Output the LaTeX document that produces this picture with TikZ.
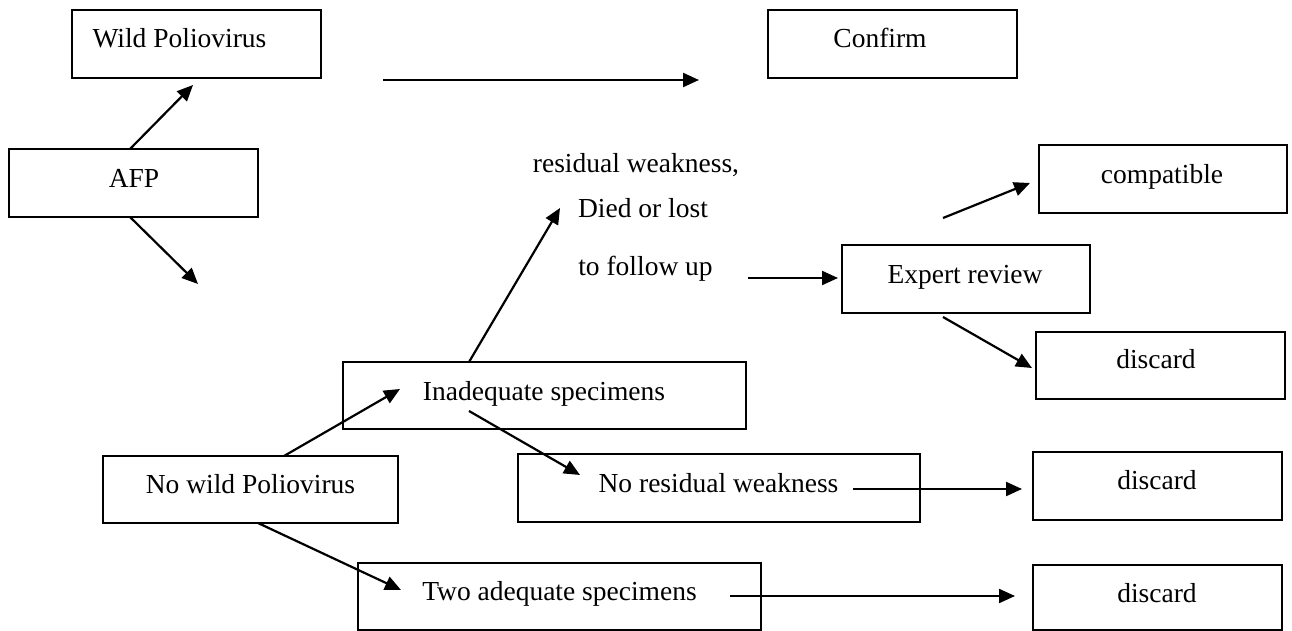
\documentclass[tikz,border=0pt]{standalone}
\usepackage{fontspec}
\setmainfont{Liberation Serif}
\usetikzlibrary{arrows.meta}
\begin{document}
\begin{tikzpicture}[x=1pt,y=-1pt,
  box/.style={draw, line width=1.3pt, inner sep=0pt, outer sep=0pt},
  txt/.style={inner sep=0pt, anchor=base, font=\fontsize{27.5}{33}\selectfont},
  arr/.style={line width=2.2pt, -{Triangle[length=16pt,width=14pt]}}]
\useasboundingbox (0,0) rectangle (1292,631);
% boxes
\node[box, minimum width=249pt, minimum height=68pt] (wp) at (196.5,44) {};
\node[box, minimum width=249pt, minimum height=68pt] (confirm) at (892.5,44) {};
\node[box, minimum width=249pt, minimum height=68pt] (afp) at (133.5,183) {};
\node[box, minimum width=248pt, minimum height=68pt] (compat) at (1163,179) {};
\node[box, minimum width=248pt, minimum height=68pt] (expert) at (966,279) {};
\node[box, minimum width=249pt, minimum height=67pt] (disc1) at (1160.5,365.5) {};
\node[box, minimum width=403pt, minimum height=67pt] (inad) at (544.5,395.5) {};
\node[box, minimum width=295pt, minimum height=67pt] (nwp) at (250.5,489.5) {};
\node[box, minimum width=402pt, minimum height=68pt] (nores) at (719,488) {};
\node[box, minimum width=249pt, minimum height=68pt] (disc2) at (1157.5,486) {};
\node[box, minimum width=403pt, minimum height=67pt] (two) at (559.5,596.5) {};
\node[box, minimum width=249pt, minimum height=65pt] (disc3) at (1157.5,597.5) {};
% texts
\node[txt] (wpT) at (179.5,48) {Wild Poliovirus};
\node[txt] (confirmT) at (880,48) {Confirm};
\node[txt] (afpT) at (134,188) {AFP};
\node[txt] (compatT) at (1162,183) {compatible};
\node[txt] (expertT) at (965,283) {Expert review};
\node[txt] (disc1T) at (1156,368) {discard};
\node[txt] (inadT) at (544,400) {Inadequate specimens};
\node[txt] (nwpT) at (250.5,493) {No wild Poliovirus};
\node[txt] (noresT) at (718.5,492) {No residual weakness};
\node[txt] (disc2T) at (1157,489) {discard};
\node[txt] (twoT) at (559.5,600) {Two adequate specimens};
\node[txt] (disc3T) at (1157,602) {discard};
\node[txt] (rwT) at (636,173) {residual weakness,};
\node[txt] (diedT) at (643,217) {Died or lost};
\node[txt] (followT) at (645.5,275) {to follow up};
% connector end points
\coordinate (c1) at (130,0);
\coordinate (t1) at (193,85);
\coordinate (t2) at (198,284);
\coordinate (h1s) at (383,80);
\coordinate (h1e) at (699,80);
\coordinate (c4) at (469,0);
\coordinate (t4) at (560,208);
\coordinate (s5) at (748,278);
\coordinate (s6) at (943,218);
\coordinate (t6) at (1030,183);
\coordinate (s7) at (943,317);
\coordinate (t7) at (1032,368);
\coordinate (c8) at (284,0);
\coordinate (t8) at (400,389);
\coordinate (c9) at (258,0);
\coordinate (t9) at (401,590);
\coordinate (s10) at (469,411);
\coordinate (t10) at (580,475);
\coordinate (s11) at (853,489);
\coordinate (t11) at (1022,489);
\coordinate (s12) at (730,596);
\coordinate (t12) at (1015,596);
% connectors
\draw[arr] (afp.north -| c1) -- (t1);
\draw[arr] (afp.south -| c1) -- (t2);
\draw[arr] (h1s) -- (h1e);
\draw[arr] (inad.north -| c4) -- (t4);
\draw[arr, shorten >=4pt] (s5) -- (s5 -| expert.west);
\draw[arr] (s6) -- (t6);
\draw[arr] (s7) -- (t7);
\draw[arr] (nwp.north -| c8) -- (t8);
\draw[arr] (nwp.south -| c9) -- (t9);
\draw[arr] (s10) -- (t10);
\draw[arr] (s11) -- (t11);
\draw[arr] (s12) -- (t12);
\end{tikzpicture}
\end{document}
